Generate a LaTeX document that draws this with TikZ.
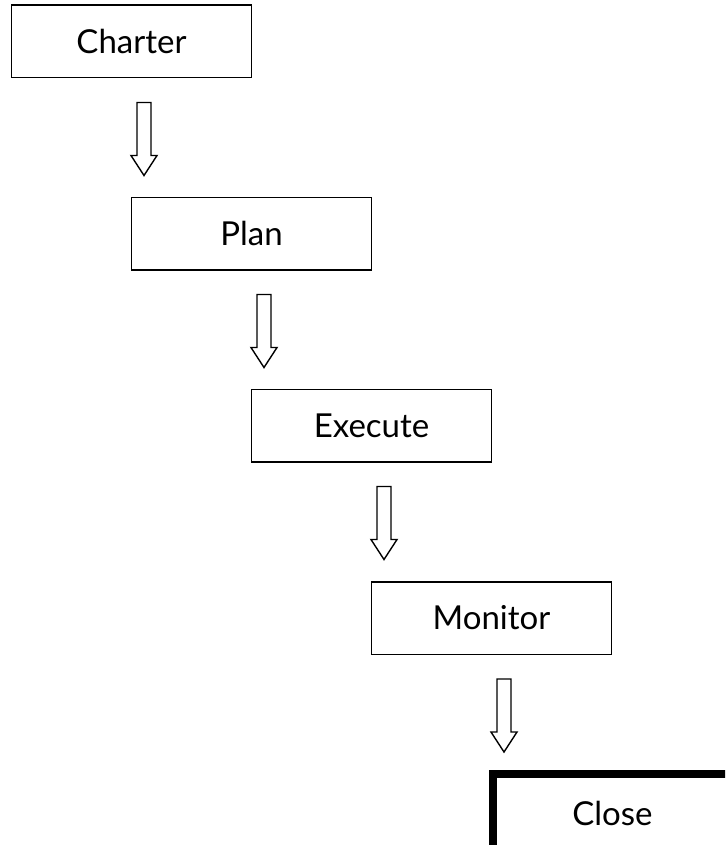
\documentclass[tikz,border=0pt]{standalone}
\usepackage{fontspec}
\setmainfont{Lato}
\usetikzlibrary{calc}
\tikzset{
  stepbox/.style={draw, line width=1.5pt, minimum width=240pt, minimum height=72.5pt, inner sep=0pt,
    font=\fontsize{33}{40}\selectfont},
  endbox/.style={stepbox, line width=8pt, minimum height=82pt},
  blockarrow/.style={draw, line width=1.4pt, fill=white, line join=miter},
}
\newcommand\hollowarrow[1]{%
  \draw[blockarrow] ($(#1)+(-7,0)$) -- ++(0,53) -- ++(-6,0) -- ++(13,20) -- ++(13,-20) -- ++(-6,0) -- ++(0,-53) -- cycle;}
\begin{document}
\begin{tikzpicture}[x=1pt,y=-1pt]
\useasboundingbox (0,0) rectangle (725,845);
\clip (0,0) rectangle (725,845);
\fill[white] (0,0) rectangle (725,845);
\node[stepbox] (charter) at (131.5,41.5) {Charter};
\node[stepbox] (plan) at (251.5,233.5) {Plan};
\node[stepbox] (execute) at (371.5,425.5) {Execute};
\node[stepbox] (monitor) at (491.5,618) {Monitor};
\node[endbox] (close) at (612.5,814.5) {\raisebox{2pt}{Close}};
\coordinate (a1) at ($(charter.south)+(12.5,24)$);
\coordinate (a2) at ($(plan.south)+(12.5,24)$);
\coordinate (a3) at ($(execute.south)+(12.5,24)$);
\coordinate (a4) at ($(monitor.south)+(12.5,24)$);
\hollowarrow{a1}
\hollowarrow{a2}
\hollowarrow{a3}
\hollowarrow{a4}
\end{tikzpicture}
\end{document}
